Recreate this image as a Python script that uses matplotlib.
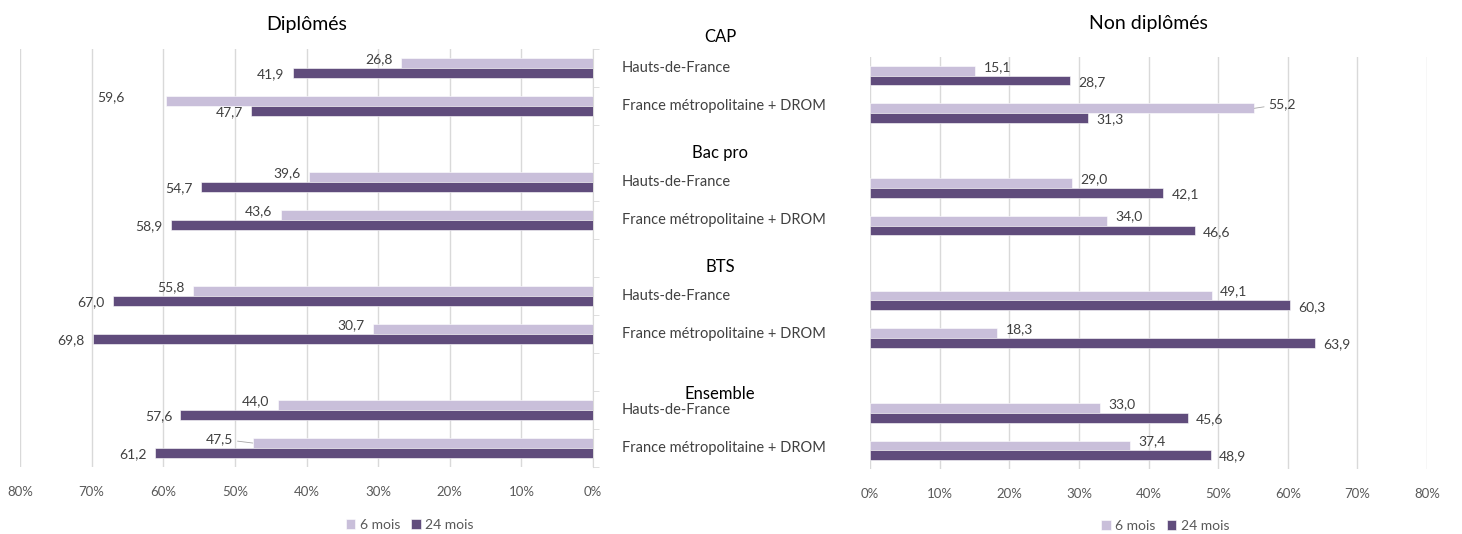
import matplotlib
matplotlib.use("Agg")
import matplotlib.pyplot as plt
import matplotlib.transforms as mtransforms
import numpy as np

plt.rcParams['font.family'] = ['Lato', 'DejaVu Sans']

# données
groupes = ["CAP", "Bac pro", "BTS", "Ensemble"]
territoires = ["Hauts-de-France", "France métropolitaine + DROM"]
series = ["6 mois", "24 mois"]

dipl_6 = [26.8, 59.6, 39.6, 43.6, 55.8, 30.7, 44.0, 47.5]
dipl_24 = [41.9, 47.7, 54.7, 58.9, 67.0, 69.8, 57.6, 61.2]
nondipl_6 = [15.1, 55.2, 29.0, 34.0, 49.1, 18.3, 33.0, 37.4]
nondipl_24 = [28.7, 31.3, 42.1, 46.6, 60.3, 63.9, 45.6, 48.9]

xticks = [0, 10, 20, 30, 40, 50, 60, 70, 80]

# couleurs
c_light = "#C9BFDA"
c_dark = "#604C7C"
c_grid = "#D9D9D9"
c_txt = "#404040"

# positions des lignes : 2 territoires par groupe + une ligne vide
pos = []
for g in range(len(groupes)):
    pos += [g * 3, g * 3 + 1]
pos = np.array(pos)
h = 0.26

fig = plt.figure(figsize=(14.62, 5.34), dpi=100)
ax1 = fig.add_axes([0.0137, 0.1255, 0.3919, 0.7827])
ax2 = fig.add_axes([0.5951, 0.1217, 0.3810, 0.7716])


def lab(v):
    return "{:.1f}".format(v).replace(".", ",")


# étiquettes déplacées à la main (index de ligne: (décalage en points, trait))
deplace_g = {1: (-30, False), 7: (-14, True)}
deplace_d = {1: (10, True)}


def draw(ax, v6, v24, side, deplace):
    b1 = ax.barh(pos - h / 2, v6, height=h, color=c_light, edgecolor="white",
                 linewidth=0.4, label=series[0], zorder=3)
    b2 = ax.barh(pos + h / 2, v24, height=h, color=c_dark, edgecolor="white",
                 linewidth=0.4, label=series[1], zorder=3)
    ax.set_xlim(0, 80)
    ax.set_ylim(10.5, -0.5)
    ax.set_xticks(xticks)
    ax.set_xticklabels(["{}%".format(t) for t in xticks])
    ax.grid(axis="x", color=c_grid, linewidth=1, zorder=0)
    ax.set_yticks([])
    for s in ["top", "bottom", "left", "right"]:
        ax.spines[s].set_visible(False)
    ax.tick_params(axis="x", length=0, labelsize=9.5, labelcolor="#595959", pad=14)
    ha = "right" if side == "left" else "left"
    dx = -6 if side == "left" else 6
    for i, p in enumerate(pos):
        off, trait = deplace.get(i, (dx, False))
        props = None
        if trait:
            props = dict(arrowstyle="-", color="#A6A6A6", lw=0.6, shrinkA=1, shrinkB=0)
        ax.annotate(lab(v6[i]), (v6[i], p - h / 2), xytext=(off, 3),
                    textcoords="offset points", ha=ha, va="center",
                    fontsize=10, color=c_txt, arrowprops=props)
        ax.annotate(lab(v24[i]), (v24[i], p + h / 2), xytext=(dx, -1),
                    textcoords="offset points", ha=ha, va="center",
                    fontsize=10, color=c_txt)
    return b1, b2


draw(ax1, dipl_6, dipl_24, "left", deplace_g)
ax1.invert_xaxis()
ax1.spines["right"].set_visible(True)
ax1.spines["right"].set_color(c_grid)
ax1.yaxis.tick_right()
ax1.set_yticks(np.arange(-0.5, 11, 1), minor=True)
ax1.tick_params(axis="y", which="minor", right=True, length=4, color=c_grid)

draw(ax2, nondipl_6, nondipl_24, "right", deplace_d)

ax1.set_title("Diplômés", fontsize=14, color="black", pad=14)
ax2.set_title("Non diplômés", fontsize=14, color="black", pad=20)

# libellés au centre
tr = mtransforms.blended_transform_factory(fig.transFigure, ax1.transData)
for i, p in enumerate(pos):
    fig.text(0.4254, p, territoires[i % 2], transform=tr, ha="left",
             va="center", fontsize=10.5, color=c_txt)
header_y = [-0.82, 2.24, 5.24, 8.58]
for g, y in zip(groupes, header_y):
    fig.text(0.4925, y, g, transform=tr, ha="center", va="center",
             fontsize=12, color="black")

ax1.legend(loc="center", bbox_to_anchor=(0.68, -0.138), ncol=2, frameon=False,
           fontsize=10, handlelength=0.7, handleheight=0.7, handletextpad=0.3,
           columnspacing=0.8, labelcolor="#595959")
ax2.legend(loc="center", bbox_to_anchor=(0.53, -0.138), ncol=2, frameon=False,
           fontsize=10, handlelength=0.7, handleheight=0.7, handletextpad=0.3,
           columnspacing=0.8, labelcolor="#595959")

plt.savefig("out.png", dpi=100)
plt.close()
